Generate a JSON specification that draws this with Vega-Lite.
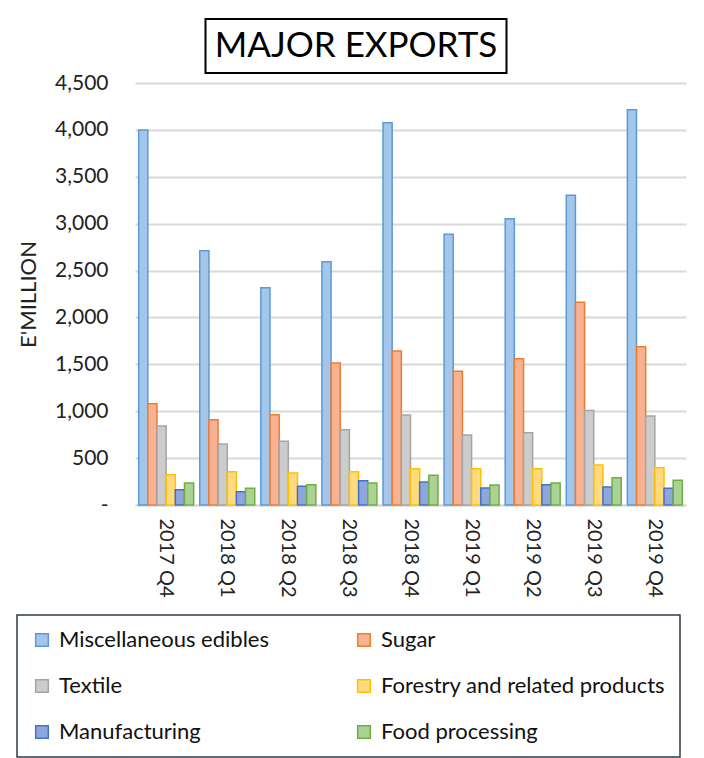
{
  "$schema": "https://vega.github.io/schema/vega-lite/v6.json",
  "background": "white",
  "padding": {"left": 16, "top": 18, "right": 5, "bottom": 0},
  "spacing": -2,
  "center": true,
  "vconcat": [
    {
      "data": {"values": [{"t": "MAJOR EXPORTS"}]},
      "width": 301,
      "height": 54,
      "view": {"stroke": "black", "strokeWidth": 2, "fill": "white"},
      "mark": {"type": "text", "font": "Lato", "fontSize": 35, "color": "black"},
      "encoding": {
        "text": {"field": "t"},
        "y": {"field": "t", "type": "nominal", "axis": {"orient": "right", "labels": false, "ticks": false, "domain": false, "grid": false, "title": null, "minExtent": 108, "maxExtent": 108}}
      }
    },
    {
      "data": {"values": [
        {"quarter": "2017 Q4", "series": "Miscellaneous edibles", "value": 4000},
        {"quarter": "2017 Q4", "series": "Sugar", "value": 1080},
        {"quarter": "2017 Q4", "series": "Textile", "value": 842},
        {"quarter": "2017 Q4", "series": "Forestry and related products", "value": 323},
        {"quarter": "2017 Q4", "series": "Manufacturing", "value": 163},
        {"quarter": "2017 Q4", "series": "Food processing", "value": 234},
        {"quarter": "2018  Q1", "series": "Miscellaneous edibles", "value": 2711},
        {"quarter": "2018  Q1", "series": "Sugar", "value": 910},
        {"quarter": "2018  Q1", "series": "Textile", "value": 650},
        {"quarter": "2018  Q1", "series": "Forestry and related products", "value": 355},
        {"quarter": "2018  Q1", "series": "Manufacturing", "value": 142},
        {"quarter": "2018  Q1", "series": "Food processing", "value": 178},
        {"quarter": "2018 Q2", "series": "Miscellaneous edibles", "value": 2317},
        {"quarter": "2018 Q2", "series": "Sugar", "value": 963},
        {"quarter": "2018 Q2", "series": "Textile", "value": 679},
        {"quarter": "2018 Q2", "series": "Forestry and related products", "value": 341},
        {"quarter": "2018 Q2", "series": "Manufacturing", "value": 199},
        {"quarter": "2018 Q2", "series": "Food processing", "value": 217},
        {"quarter": "2018 Q3", "series": "Miscellaneous edibles", "value": 2594},
        {"quarter": "2018 Q3", "series": "Sugar", "value": 1514},
        {"quarter": "2018 Q3", "series": "Textile", "value": 803},
        {"quarter": "2018 Q3", "series": "Forestry and related products", "value": 355},
        {"quarter": "2018 Q3", "series": "Manufacturing", "value": 259},
        {"quarter": "2018 Q3", "series": "Food processing", "value": 234},
        {"quarter": "2018 Q4", "series": "Miscellaneous edibles", "value": 4076},
        {"quarter": "2018 Q4", "series": "Sugar", "value": 1642},
        {"quarter": "2018 Q4", "series": "Textile", "value": 960},
        {"quarter": "2018 Q4", "series": "Forestry and related products", "value": 387},
        {"quarter": "2018 Q4", "series": "Manufacturing", "value": 245},
        {"quarter": "2018 Q4", "series": "Food processing", "value": 316},
        {"quarter": "2019 Q1", "series": "Miscellaneous edibles", "value": 2886},
        {"quarter": "2019 Q1", "series": "Sugar", "value": 1425},
        {"quarter": "2019 Q1", "series": "Textile", "value": 746},
        {"quarter": "2019 Q1", "series": "Forestry and related products", "value": 387},
        {"quarter": "2019 Q1", "series": "Manufacturing", "value": 181},
        {"quarter": "2019 Q1", "series": "Food processing", "value": 213},
        {"quarter": "2019 Q2", "series": "Miscellaneous edibles", "value": 3052},
        {"quarter": "2019 Q2", "series": "Sugar", "value": 1560},
        {"quarter": "2019 Q2", "series": "Textile", "value": 771},
        {"quarter": "2019 Q2", "series": "Forestry and related products", "value": 387},
        {"quarter": "2019 Q2", "series": "Manufacturing", "value": 217},
        {"quarter": "2019 Q2", "series": "Food processing", "value": 234},
        {"quarter": "2019 Q3", "series": "Miscellaneous edibles", "value": 3302},
        {"quarter": "2019 Q3", "series": "Sugar", "value": 2161},
        {"quarter": "2019 Q3", "series": "Textile", "value": 1009},
        {"quarter": "2019 Q3", "series": "Forestry and related products", "value": 426},
        {"quarter": "2019 Q3", "series": "Manufacturing", "value": 192},
        {"quarter": "2019 Q3", "series": "Food processing", "value": 291},
        {"quarter": "2019 Q4", "series": "Miscellaneous edibles", "value": 4214},
        {"quarter": "2019 Q4", "series": "Sugar", "value": 1688},
        {"quarter": "2019 Q4", "series": "Textile", "value": 949},
        {"quarter": "2019 Q4", "series": "Forestry and related products", "value": 398},
        {"quarter": "2019 Q4", "series": "Manufacturing", "value": 178},
        {"quarter": "2019 Q4", "series": "Food processing", "value": 263}
      ]},
      "width": 551,
      "height": 422,
      "view": {"stroke": null},
      "mark": {"type": "bar", "strokeWidth": 1.5},
      "encoding": {
        "x": {
          "field": "quarter", "type": "nominal", "sort": null,
          "scale": {"paddingInner": 0.1, "paddingOuter": 0.06},
          "axis": {"title": null, "labelAngle": 90, "labelFontSize": 20, "labelFont": "Lato", "labelColor": "#222222", "ticks": false, "domainColor": "#d9d9d9", "domainWidth": 2, "labelPadding": 13}
        },
        "xOffset": {
          "field": "series", "type": "nominal",
          "scale": {"domain": ["Miscellaneous edibles", "Sugar", "Textile", "Forestry and related products", "Manufacturing", "Food processing"], "paddingInner": 0, "paddingOuter": 0}
        },
        "y": {
          "field": "value", "type": "quantitative",
          "scale": {"domain": [0, 4500], "nice": false},
          "axis": {"title": "E'MILLION", "values": [0, 500, 1000, 1500, 2000, 2500, 3000, 3500, 4000, 4500], "labelExpr": "datum.value == 0 ? '-' : format(datum.value, ',')", "grid": true, "gridColor": "#d9d9d9", "gridWidth": 2, "domain": false, "ticks": false, "labelPadding": 27, "minExtent": 90, "maxExtent": 90, "labelFontSize": 21, "labelFont": "Lato", "labelColor": "#222222", "titleFontSize": 22, "titleFont": "Lato", "titleFontWeight": "normal", "titleColor": "#222222", "titlePadding": 5}
        },
        "fill": {
          "field": "series", "type": "nominal",
          "scale": {"domain": ["Miscellaneous edibles", "Textile", "Manufacturing", "Sugar", "Forestry and related products", "Food processing"], "range": ["#a4c6ea", "#cccccc", "#8fa6dc", "#f6b293", "#ffda80", "#aad292"]}
        },
        "stroke": {
          "field": "series", "type": "nominal",
          "scale": {"domain": ["Miscellaneous edibles", "Textile", "Manufacturing", "Sugar", "Forestry and related products", "Food processing"], "range": ["#5b9bd5", "#a5a5a5", "#4472c4", "#ed7d31", "#ffc000", "#70ad47"]}
        }
      }
    }
  ],
  "config": {
    "legend": {
      "orient": "none", "legendX": -118, "legendY": 596, "columns": 2, "title": null,
      "symbolType": "square", "symbolSize": 160, "symbolStrokeWidth": 1.5,
      "labelFontSize": 22, "labelFont": "Lato", "labelColor": "#111111", "labelOffset": 6, "labelLimit": 400,
      "strokeColor": "#2f3a4a", "strokeWidth": 1.5, "padding": 14, "rowPadding": 24, "columnPadding": 84
    }
  }
}
